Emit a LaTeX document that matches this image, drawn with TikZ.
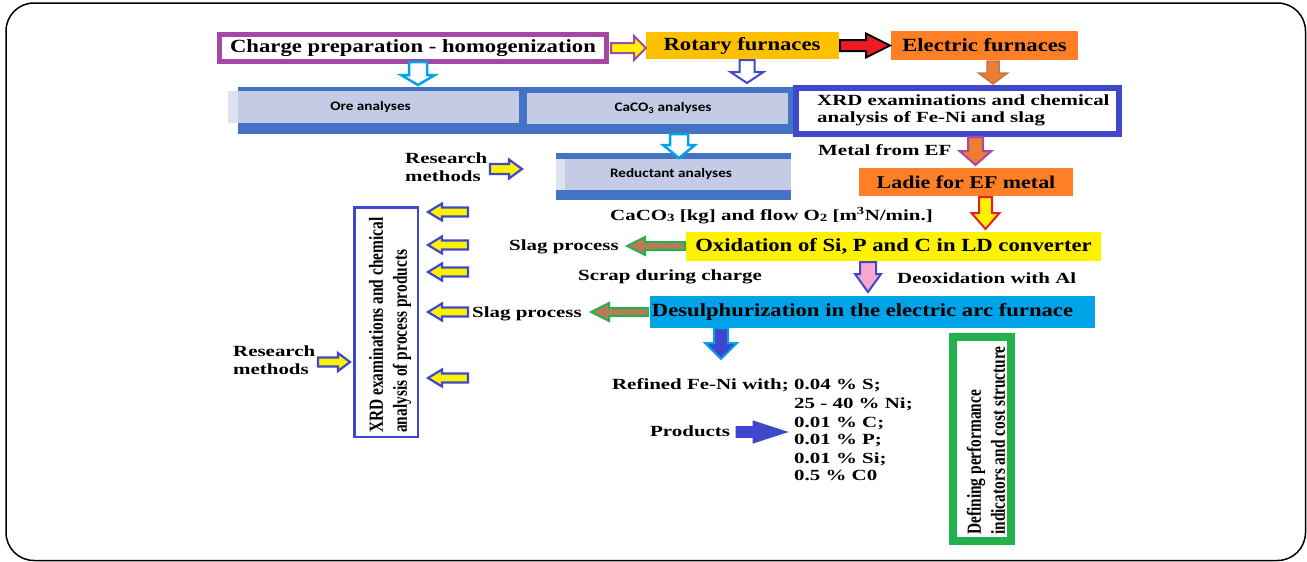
\documentclass[tikz,border=0pt]{standalone}
\usepackage{fontspec}
\setmainfont{Liberation Serif}
\newfontfamily\fT{Liberation Serif}[FakeStretch=1.22]
\newfontfamily\fS{Liberation Serif}[FakeStretch=1.35]
\newfontfamily\fC{Liberation Serif}[FakeStretch=0.77]
\newfontfamily\fK{Carlito}[FakeStretch=1.17]
\definecolor{cpurple}{HTML}{A349A4}
\definecolor{cgold}{HTML}{FFC000}
\definecolor{corange}{HTML}{FF7F27}
\definecolor{xblue}{HTML}{3F48CC}
\definecolor{bandblue}{HTML}{4472C4}
\definecolor{cellblue}{HTML}{C3CBE5}
\definecolor{palecell}{HTML}{DDE2F1}
\definecolor{skyblue}{HTML}{00A2E8}
\definecolor{cgreen}{HTML}{22B14C}
\definecolor{cbrown}{HTML}{B97A57}
\definecolor{cpink}{HTML}{F7A8CB}
\definecolor{cred}{HTML}{ED1C24}
\definecolor{corangeb}{HTML}{ED7D31}
\definecolor{cbrownline}{HTML}{C0784A}
\tikzset{
  pics/farr/.style n args={4}{code={
    \path[pic actions] (0,-#2) -- ({#1-#4},-#2) -- ({#1-#4},-#3) -- (#1,0) -- ({#1-#4},#3) -- ({#1-#4},#2) -- (0,#2) -- cycle;}},
  title/.style={font=\fT\bfseries\fontsize{18.6}{21}\selectfont, inner sep=0pt},
  lbl/.style={font=\fS\bfseries\fontsize{15.5}{17.5}\selectfont, inner sep=0pt},
  cond/.style={font=\fC\bfseries\fontsize{20}{24}\selectfont, inner sep=0pt, align=left},
  anl/.style={font=\fK\bfseries\fontsize{13}{15}\selectfont, inner sep=0pt},
  yel/.style={fill=yellow, draw=xblue, line width=2.2pt},
  slag/.style={fill=cbrown, draw=cgreen, line width=2pt},
}
\begin{document}
\begin{tikzpicture}[x=1pt,y=-1pt]
\useasboundingbox (0,0) rectangle (1307,562);
\draw[line width=1.5pt, rounded corners=28pt] (6,3) rectangle (1305.5,560.5);

% top row
\node[draw=cpurple, line width=5pt, fill=white, minimum width=387pt, minimum height=27pt, title] (charge) at (413,48) {Charge preparation - homogenization};
\node[fill=cgold, minimum width=193pt, minimum height=27pt, title] (rotary) at (742,45.5) {Rotary furnaces};
\node[fill=corange, minimum width=187pt, minimum height=29pt, title] (electric) at (984.5,45.5) {Electric furnaces};
\pic[fill=yellow, draw=cpurple, line width=2pt] at (611,48) {farr={35}{5}{12}{12}};
\pic[fill=cred, draw=black, line width=2pt] at (840,45.5) {farr={50}{5.5}{12}{24}};

% analyses band
\node[fill=bandblue, minimum width=555pt, minimum height=47pt, inner sep=0pt, anchor=north west] (band) at (238,87) {};
\fill[palecell] (228,91) rectangle (238,123);
\node[fill=cellblue, minimum width=281pt, minimum height=32pt, inner sep=0pt, anchor=north west] (ore) at (238,91) {};
\node[anl] (oretxt) at (370.5,107) {Ore analyses};
\node[fill=cellblue, minimum width=261pt, minimum height=31pt, inner sep=0pt, anchor=north west] (caco) at (527,93) {};
\node[anl] (cacotxt) at (663,108) {CaCO\textsubscript{3} analyses};
\node[fill=bandblue, minimum width=235pt, minimum height=47pt, inner sep=0pt, anchor=north west] (redband) at (556,153) {};
\node[fill=cellblue, minimum width=235pt, minimum height=31pt, inner sep=0pt, anchor=north west] (red) at (556,159) {};
\fill[palecell] (556,159) rectangle (565,190);
\node[anl] (redtxt) at (671,174) {Reductant analyses};

\pic[rotate=-90, fill=white, draw=skyblue, line width=2.5pt] at (418,62) {farr={23}{9}{17}{10}};
\pic[rotate=-90, fill=white, draw=xblue, line width=2pt] at (747,60) {farr={23}{7.5}{16.5}{11}};
\pic[rotate=-90, fill=corangeb, draw=cbrownline, line width=1.5pt] at (993,61) {farr={23}{6}{14.5}{11}};
\pic[rotate=-90, fill=white, draw=skyblue, line width=2.5pt] at (679,134) {farr={24}{9}{16}{13}};

% XRD box right
\node[draw=xblue, line width=6pt, fill=white, minimum width=323pt, minimum height=46pt, inner sep=0pt] (xrd) at (957.5,111) {};
\node[lbl, align=left, anchor=west] (xrdtxt) at (817,110.5) {XRD examinations and chemical\\analysis of Fe-Ni and slag};

% right column
\node[lbl, anchor=base west] (metal) at (818,155) {Metal from EF};
\pic[rotate=-90, fill=corangeb, draw=cpurple, line width=2pt] at (975.5,137) {farr={28}{7.5}{16}{14}};
\node[fill=corange, minimum width=214pt, minimum height=28pt, font=\fT\bfseries\fontsize{18}{21}\selectfont, inner sep=0pt] (ladle) at (966,182) {Ladie for EF metal};
\pic[rotate=-90, fill=yellow, draw=cred, line width=2pt] at (985.5,197) {farr={32}{6.5}{14}{16}};
\node[lbl, anchor=base west] (caco2) at (610,220) {CaCO{\fontsize{11}{11}\selectfont\raisebox{-1pt}{3}} [kg] and flow O{\fontsize{11}{11}\selectfont\raisebox{-1pt}{2}} [m\textsuperscript{3}N/min.]};
\node[fill=yellow, minimum width=415pt, minimum height=29pt, title] (oxid) at (893.5,246.5) {Oxidation of Si, P and C in LD converter};
\node[lbl, anchor=base west] (slag1) at (509,250) {Slag process};
\pic[rotate=180, slag] at (685,246) {farr={58}{4}{9}{18}};
\node[lbl, anchor=base west] (scrap) at (578,280) {Scrap during charge};
\pic[rotate=-90, fill=cpink, draw=xblue, line width=2pt] at (868,262) {farr={30}{8}{13}{18}};
\node[lbl, anchor=base west] (deox) at (897,283) {Deoxidation with Al};
\node[fill=skyblue, minimum width=445pt, minimum height=32pt, inner sep=0pt] (desul) at (872.5,312) {};
\node[title] (desultxt) at (862.5,312) {Desulphurization in the electric arc furnace};
\node[lbl, anchor=base west] (slag2) at (472,317) {Slag process};
\pic[rotate=180, slag] at (648,312) {farr={57}{4}{9}{18}};
\pic[rotate=-90, fill=xblue, draw=skyblue, line width=2pt] at (721,328) {farr={31}{7}{16}{16}};

% products
\node[lbl, anchor=base west] (r1) at (794,389) {0.04 \% S;};
\node[lbl, anchor=base east] (refined) at (789,389) {Refined Fe-Ni with;};
\node[lbl, anchor=base west] (r2) at (794,408) {25 - 40 \% Ni;};
\node[lbl, anchor=base west] (r3) at (794,427) {0.01 \% C;};
\node[lbl, anchor=base west] (r4) at (794,444) {0.01 \% P;};
\node[lbl, anchor=base west] (r5) at (794,463) {0.01 \% Si;};
\node[lbl, anchor=base west] (r6) at (794,480) {0.5 \% C0};
\node[lbl, anchor=base west] (prod) at (650,436) {Products};
\pic[fill=xblue, draw=xblue, line width=1pt] at (736,432) {farr={51}{5.3}{11}{34}};

% green box
\node[draw=cgreen, line width=8pt, fill=white, minimum width=58pt, minimum height=204pt, inner sep=0pt] (perf) at (982,439) {};
\node[cond, rotate=90, anchor=west] (perftxt) at (986,535) {Defining performance\\indicators and cost structure};

% left column
\node[draw=xblue, line width=2.5pt, fill=white, minimum width=63.5pt, minimum height=229.5pt, inner sep=0pt] (leftbox) at (386,322) {};
\node[cond, rotate=90, anchor=west] (lefttxt) at (390,433) {XRD examinations and chemical\\analysis of process products};
\foreach \yy in {212,245,272,312,378}
  \pic[rotate=180, yel] at (468,\yy) {farr={40}{4.5}{8.5}{14}};
\node[lbl, align=left, anchor=west] (res1) at (405,167) {Research\\methods};
\pic[yel] at (490,169) {farr={32}{5}{9.5}{13}};
\node[lbl, align=left, anchor=west] (res2) at (233,360) {Research\\methods};
\pic[yel] at (318,362) {farr={32}{4.5}{9}{12}};
\end{tikzpicture}
\end{document}
